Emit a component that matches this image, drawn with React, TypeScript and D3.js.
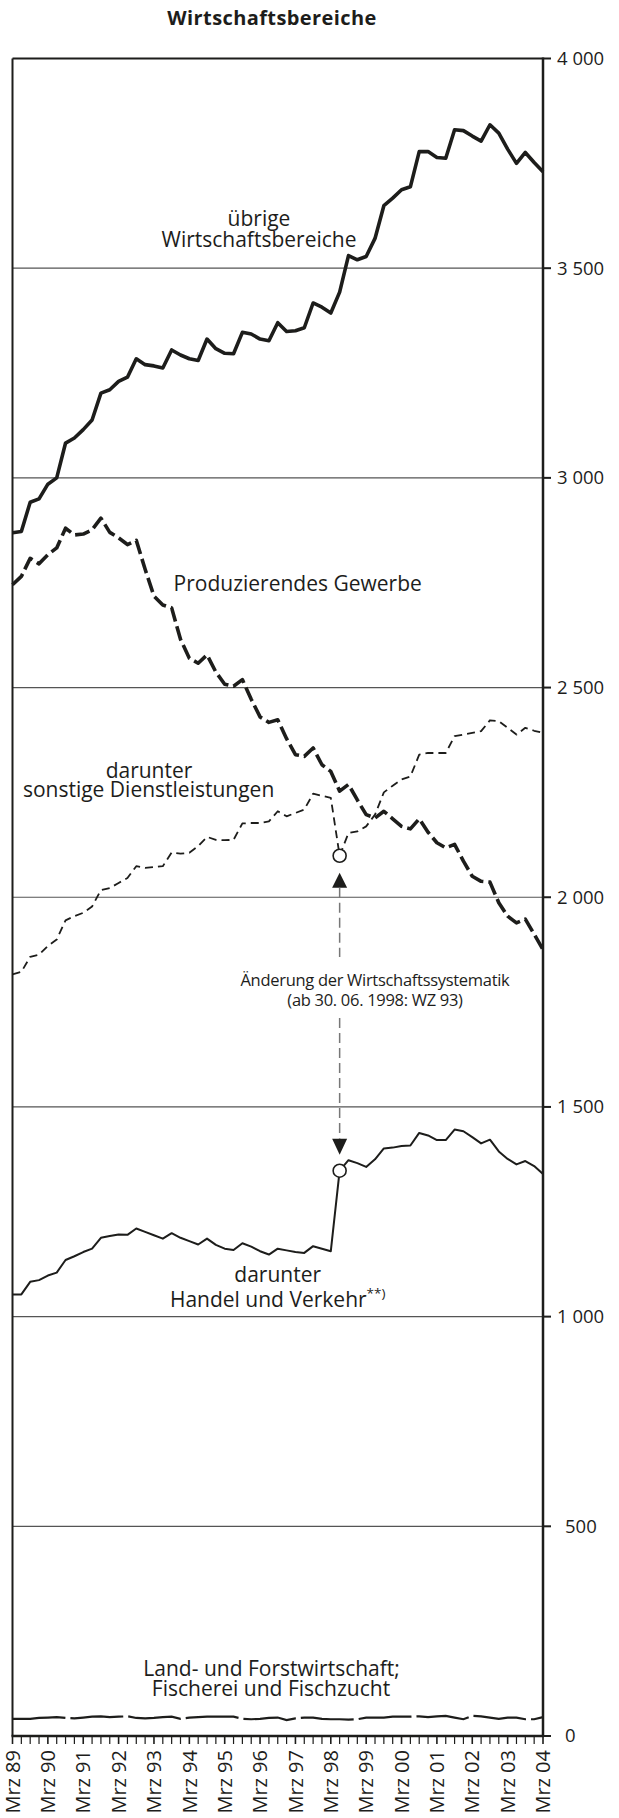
import React from "react";
import * as d3 from "d3";

// Quarterly data, Mrz 1989 – Mrz 2004 (61 quarters), values in 1 000
const yearLabels = ["Mrz 89", "Mrz 90", "Mrz 91", "Mrz 92", "Mrz 93", "Mrz 94", "Mrz 95", "Mrz 96", "Mrz 97", "Mrz 98", "Mrz 99", "Mrz 00", "Mrz 01", "Mrz 02", "Mrz 03", "Mrz 04"];
const yTicks = [0, 500, 1000, 1500, 2000, 2500, 3000, 3500, 4000];

const uebrige = [2869, 2872, 2942, 2950, 2985, 3000, 3083, 3095, 3115, 3138, 3202, 3210, 3230, 3240, 3284, 3270, 3267, 3262, 3305, 3293, 3284, 3280, 3331, 3308, 3297, 3296, 3347, 3343, 3331, 3327, 3370, 3349, 3351, 3358, 3417, 3407, 3393, 3443, 3530, 3520, 3528, 3571, 3649, 3667, 3687, 3694, 3778, 3778, 3764, 3762, 3830, 3828, 3815, 3803, 3842, 3822, 3784, 3750, 3776, 3752, 3730];
const produzierend = [2745, 2765, 2808, 2795, 2817, 2833, 2880, 2864, 2866, 2876, 2904, 2870, 2857, 2841, 2851, 2782, 2718, 2697, 2690, 2615, 2570, 2558, 2578, 2537, 2508, 2503, 2519, 2472, 2430, 2417, 2423, 2378, 2340, 2336, 2356, 2316, 2300, 2253, 2269, 2232, 2197, 2189, 2205, 2187, 2169, 2163, 2187, 2155, 2130, 2118, 2126, 2086, 2050, 2038, 2036, 1987, 1955, 1939, 1948, 1912, 1875];
const sonstige = [1816, 1822, 1858, 1863, 1884, 1899, 1945, 1955, 1963, 1978, 2017, 2022, 2034, 2046, 2074, 2070, 2072, 2074, 2107, 2104, 2106, 2122, 2144, 2137, 2136, 2137, 2176, 2177, 2177, 2181, 2205, 2193, 2201, 2209, 2247, 2242, 2237, 2099, 2153, 2157, 2169, 2197, 2250, 2266, 2281, 2288, 2340, 2344, 2344, 2344, 2384, 2388, 2392, 2396, 2422, 2420, 2404, 2388, 2404, 2397, 2392];
const handel = [1053, 1053, 1083, 1087, 1098, 1105, 1135, 1144, 1154, 1162, 1188, 1192, 1196, 1195, 1210, 1202, 1194, 1186, 1199, 1188, 1180, 1172, 1186, 1171, 1162, 1159, 1175, 1167, 1156, 1148, 1162, 1158, 1154, 1152, 1168, 1162, 1156, 1348, 1373, 1366, 1357, 1375, 1401, 1403, 1407, 1408, 1438, 1432, 1421, 1421, 1446, 1442, 1428, 1413, 1422, 1394, 1376, 1363, 1371, 1359, 1340];
const land = [41, 41, 41, 43, 44, 45, 43, 42, 44, 46, 47, 45, 46, 47, 43, 42, 43, 45, 46, 41, 44, 45, 46, 46, 46, 46, 41, 40, 41, 43, 44, 38, 42, 44, 44, 41, 40, 40, 39, 40, 44, 44, 44, 46, 46, 46, 47, 45, 47, 48, 44, 40, 48, 47, 44, 41, 44, 44, 40, 40, 45];
const breakIndex = 37; // 30.06.1998, WZ 93

const W = 619;
const H = 1818;
const FONT = "'Open Sans', 'Noto Sans', sans-serif";
const INK = "#1d1d1b";

export default function App() {
  const left = 12.5;
  const right = 543;
  const top = 58.5;
  const bottom = 1736;
  const x = d3.scaleLinear().domain([0, uebrige.length - 1]).range([left, right]);
  const y = d3.scaleLinear().domain([0, 4000]).range([bottom, top]);
  const line = d3
    .line<number>()
    .x((_, i) => x(i))
    .y((d) => y(d));

  const quarters = d3.range(uebrige.length);
  const bx = x(breakIndex);
  const cTop = y(sonstige[breakIndex]);
  const cBot = y(handel[breakIndex]);
  const r = 6.5;
  const upTip = cTop + 17;
  const upBase = upTip + 15;
  const downTip = cBot - 16;
  const downBase = downTip - 16;

  const fmt = (v: number) => (v >= 1000 ? d3.format(",")(v).replace(",", " ") : String(v));

  return (
    <svg
      width={W}
      height={H}
      viewBox={`0 0 ${W} ${H}`}
      style={{ position: "absolute", left: 0, top: 0, background: "#fff" }}
      fontFamily={FONT}
    >
      <rect x={0} y={0} width={W} height={H} fill="#fff" />
      <text x={272} y={25} textAnchor="middle" fontSize={20} fontWeight={700} letterSpacing={0.4} fill={INK}>
        Wirtschaftsbereiche
      </text>

      {/* gridlines */}
      {yTicks.filter((v) => v > 0 && v < 4000).map((v) => (
        <line key={v} x1={left} x2={right} y1={y(v)} y2={y(v)} stroke="#555" strokeWidth={1.2} />
      ))}

      {/* frame */}
      <line x1={left} x2={right} y1={top} y2={top} stroke={INK} strokeWidth={2} />
      <line x1={left} x2={left} y1={top} y2={bottom} stroke={INK} strokeWidth={2} />
      <line x1={right} x2={right} y1={top - 1} y2={bottom} stroke={INK} strokeWidth={2.5} />
      <line x1={left - 1} x2={right + 1} y1={bottom} y2={bottom} stroke={INK} strokeWidth={2.5} />

      {/* right axis ticks & labels */}
      {yTicks.map((v) => (
        <g key={v}>
          <line x1={right} x2={right + 8} y1={y(v)} y2={y(v)} stroke={INK} strokeWidth={2} />
          <text x={v >= 1000 ? 557 : 565} y={y(v)} dy="0.35em" fontSize={18.5} fill={INK}>
            {fmt(v)}
          </text>
        </g>
      ))}

      {/* bottom quarterly ticks */}
      {quarters.map((i) => (
        <line key={i} x1={x(i)} x2={x(i)} y1={bottom} y2={bottom + 8} stroke={INK} strokeWidth={i % 4 === 0 ? 1.6 : 1.2} />
      ))}
      {yearLabels.map((lab, k) => (
        <text
          key={lab}
          transform={`translate(${x(k * 4) + 7.2},${1750}) rotate(-90)`}
          textAnchor="end"
          fontSize={20}
          fill={INK}
        >
          {lab}
        </text>
      ))}

      {/* series */}
      <path d={line(land) || ""} fill="none" stroke={INK} strokeWidth={2.2} strokeDasharray="53,5" />
      <path d={line(handel) || ""} fill="none" stroke={INK} strokeWidth={2} strokeLinejoin="round" />
      <path d={line(sonstige) || ""} fill="none" stroke={INK} strokeWidth={1.8} strokeDasharray="8,5" strokeLinejoin="round" />
      <path d={line(produzierend) || ""} fill="none" stroke={INK} strokeWidth={3.6} strokeDasharray="15,5" strokeLinejoin="round" />
      <path d={line(uebrige) || ""} fill="none" stroke={INK} strokeWidth={3.6} strokeLinejoin="round" />

      {/* break annotation */}
      <circle cx={bx} cy={cTop} r={r} fill="#fff" stroke={INK} strokeWidth={1.6} />
      <circle cx={bx} cy={cBot} r={r} fill="#fff" stroke={INK} strokeWidth={1.6} />
      <path d={`M${bx},${upTip} L${bx - 7.5},${upBase} L${bx + 7.5},${upBase} Z`} fill={INK} />
      <path d={`M${bx},${downTip} L${bx - 7.5},${downBase} L${bx + 7.5},${downBase} Z`} fill={INK} />
      <line x1={bx} x2={bx} y1={upBase} y2={957} stroke="#777" strokeWidth={1.5} strokeDasharray="10,5" />
      <line x1={bx} x2={bx} y1={1018} y2={downBase} stroke="#777" strokeWidth={1.5} strokeDasharray="10,5" />
      <text x={375} y={986} textAnchor="middle" fontSize={16.5} letterSpacing={-0.3} fill={INK}>
        Änderung der Wirtschaftssystematik
      </text>
      <text x={375} y={1006} textAnchor="middle" fontSize={16.5} letterSpacing={-0.3} fill={INK}>
        (ab 30. 06. 1998: WZ 93)
      </text>

      {/* series labels */}
      <g fontSize={21} fill={INK} textAnchor="middle">
        <text x={259} y={226}>übrige</text>
        <text x={259} y={247}>Wirtschaftsbereiche</text>
        <text x={297.7} y={591}>Produzierendes Gewerbe</text>
        <text x={149} y={777.7}>darunter</text>
        <text x={148.6} y={797}>sonstige Dienstleistungen</text>
        <text x={277.7} y={1281.7}>darunter</text>
        <text x={277.7} y={1306.7}>
          Handel und Verkehr
          <tspan fontSize={13.5} dy={-9}>**)</tspan>
        </text>
        <text x={271.6} y={1676}>Land- und Forstwirtschaft;</text>
        <text x={271} y={1696}>Fischerei und Fischzucht</text>
      </g>
    </svg>
  );
}
